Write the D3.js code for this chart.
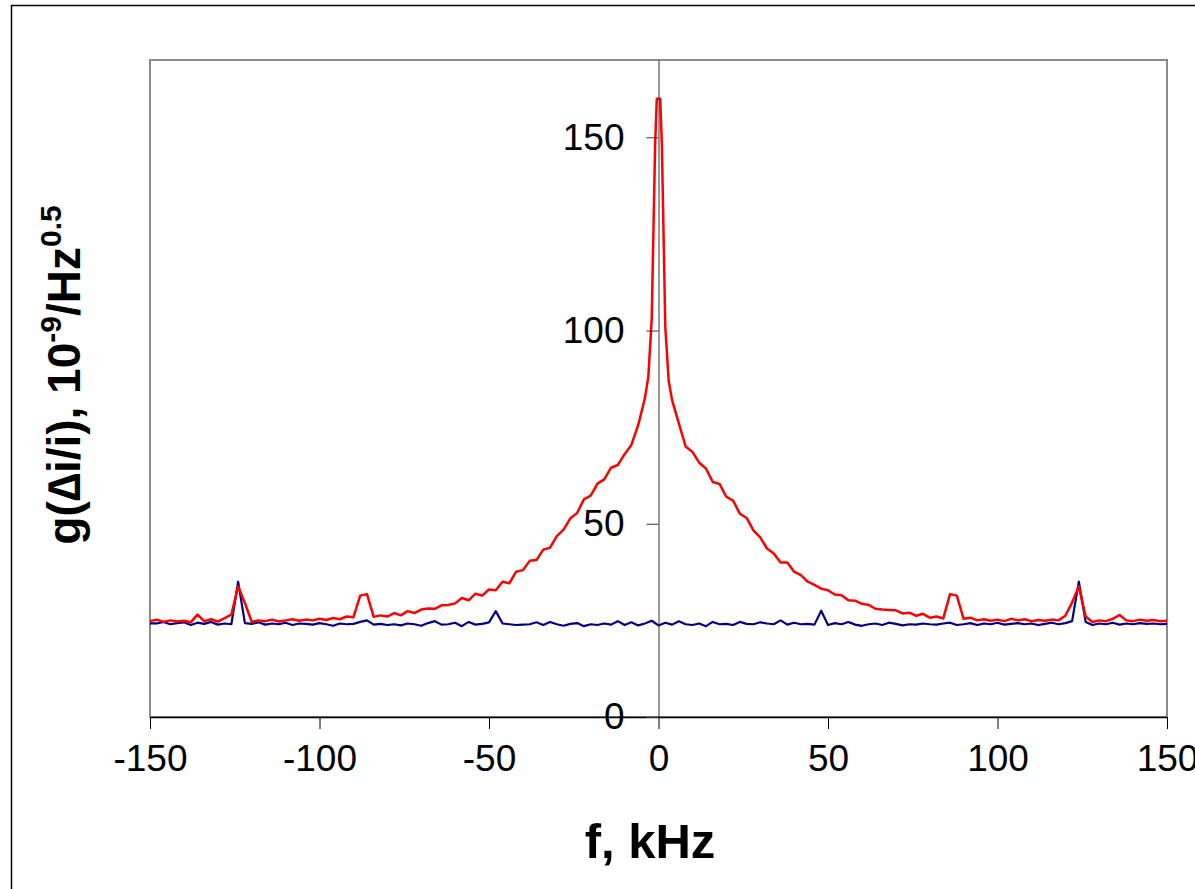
<!DOCTYPE html>
<html>
<head>
<meta charset="utf-8">
<script src="https://cdn.jsdelivr.net/npm/d3@7"></script>
<style>
  html, body { margin: 0; padding: 0; background: #fff; overflow: hidden; }
</style>
</head>
<body>
<div id="chart"></div>
<script>
// frequency grid, kHz (step 2)
const freq = d3.range(-150, 151, 2);

// blue trace (reference level), one value per freq
const blueVals = [
  24.2, 24.2, 24.6, 24.0, 24.3, 24.5, 23.8, 24.4, 24.1, 24.6, 23.9, 24.2, 24.0, 35.0, 24.3,
  24.1, 24.5, 23.9, 24.2, 24.0, 24.4, 23.8, 24.2, 24.1, 23.9, 24.3, 24.0, 23.6, 24.2, 24.0,
  24.1, 24.6, 25.0, 23.9, 24.1, 23.8, 24.0, 23.7, 24.2, 24.0, 23.6, 24.3, 24.8, 23.9, 24.0,
  24.4, 23.5, 24.6, 23.9, 24.1, 24.5, 27.4, 24.2, 24.0, 23.8, 23.9, 24.0, 24.5, 23.8, 24.6,
  24.0, 23.6, 24.1, 24.3, 23.5, 24.0, 23.8, 24.2, 23.9, 24.8, 23.8, 24.5, 23.7, 24.2, 24.9,
  23.7, 24.4, 23.9, 24.8, 24.0, 23.8, 24.2, 23.5, 24.6, 24.0, 24.1, 23.8, 24.6, 24.1, 24.0,
  24.5, 24.2, 24.0, 25.0, 23.9, 24.4, 24.0, 24.1, 23.9, 27.5, 23.8, 24.3, 24.0, 24.6, 23.9,
  23.6, 24.0, 24.2, 23.8, 24.4, 24.1, 23.7, 24.0, 23.9, 24.2, 24.0, 23.9, 24.2, 24.4, 23.8,
  24.0, 24.3, 23.8, 24.2, 24.0, 24.4, 23.9, 24.1, 24.3, 24.0, 24.2, 23.8, 24.1, 24.4, 24.0,
  24.3, 24.8, 35.0, 24.6, 23.8, 24.2, 24.0, 24.4, 23.9, 24.2, 24.0, 24.3, 24.1, 24.2, 24.0, 24.1
];

// red trace, one value per freq
const redVals = [
  24.8, 25.2, 24.6, 25.0, 24.7, 24.9, 24.5, 26.5, 24.8, 25.3, 24.7, 25.6, 26.5, 33.8, 29.5,
  24.6, 25.0, 24.8, 25.2, 24.7, 25.0, 25.3, 24.9, 25.2, 25.0, 25.4, 25.1, 25.6, 25.3, 26.0,
  25.8, 31.4, 31.8, 25.9, 26.3, 26.0, 26.9, 26.3, 27.4, 26.9, 27.8, 28.1, 28.0, 28.9, 29.0,
  29.4, 30.8, 30.2, 31.9, 31.4, 33.0, 32.8, 35.0, 34.6, 37.6, 38.0, 40.4, 40.6, 43.3, 43.8,
  46.8, 48.5, 51.4, 52.8, 56.3, 57.3, 60.4, 61.5, 64.5, 65.2, 68.0, 70.4, 75.5, 82.5, 103,
  160, 101, 82, 76, 70.0, 68.6, 65.8, 64.3, 60.8, 60.3, 57.0, 56.0, 52.6, 51.5, 48.3,
  46.5, 43.6, 42.3, 40.0, 40.0, 37.6, 36.7, 35.0, 34.2, 33.2, 32.8, 31.7, 31.5, 30.2, 30.1,
  29.3, 29.0, 28.0, 27.8, 27.7, 27.6, 26.8, 27.0, 26.2, 26.7, 25.7, 26.0, 25.5, 31.8, 31.4,
  25.4, 25.7, 25.0, 25.3, 24.9, 25.2, 24.8, 25.4, 25.0, 25.3, 24.8, 25.1, 24.9, 25.2, 25.0,
  26.2, 29.6, 33.8, 26.0, 24.6, 25.0, 24.8, 25.4, 26.4, 25.0, 24.8, 25.2, 24.9, 25.1, 24.8, 24.9
];

// extra points around the central peak of the red trace
const peakFreq = [-3, -1, -0.5, 0.5, 1, 3];
const peakRed = [88, 148, 160, 160, 148, 87];

const xTicks = [-150, -100, -50, 0, 50, 100, 150];
const yTicks = [0, 50, 100, 150];

const width = 1195, height = 889;
const plot = { left: 150, right: 1167, top: 60, bottom: 717 };

const blueData = freq.map((f, i) => ({ f: f, v: blueVals[i] }));
const redData = freq.map((f, i) => ({ f: f, v: redVals[i] }))
  .concat(peakFreq.map((f, i) => ({ f: f, v: peakRed[i] })))
  .sort((a, b) => a.f - b.f);

const x_scale = d3.scaleLinear().domain([-150, 150]).range([plot.left, plot.right]);
const y_scale = d3.scaleLinear().domain([0, 170]).range([plot.bottom, plot.top]);

const svg = d3.select('#chart').append('svg')
  .attr('width', width).attr('height', height)
  .style('display', 'block')
  .style('font-family', 'Arial, "Liberation Sans", sans-serif');

// outer frame
svg.append('rect')
  .attr('x', 11.5).attr('y', 5.5)
  .attr('width', 1300).attr('height', 1000)
  .attr('fill', 'none').attr('stroke', '#000').attr('stroke-width', 1.5);

// plot area border
svg.append('rect')
  .attr('x', plot.left).attr('y', plot.top)
  .attr('width', plot.right - plot.left).attr('height', plot.bottom - plot.top)
  .attr('fill', '#fff').attr('stroke', '#8c8c8c').attr('stroke-width', 2);

const line = d3.line().x(d => x_scale(d.f)).y(d => y_scale(d.v));

svg.append('path')
  .datum(blueData)
  .attr('fill', 'none')
  .attr('stroke', '#000080')
  .attr('stroke-width', 2.2)
  .attr('stroke-linejoin', 'round')
  .attr('d', line);

svg.append('path')
  .datum(redData)
  .attr('fill', 'none')
  .attr('stroke', '#ff0000')
  .attr('stroke-width', 2.5)
  .attr('stroke-linejoin', 'round')
  .attr('d', line);

// x axis along the bottom
const xAxis = svg.append('g')
  .attr('transform', `translate(0,${plot.bottom})`)
  .call(d3.axisBottom(x_scale).tickValues(xTicks).tickFormat(d => String(d))
    .tickSize(12).tickPadding(16).tickSizeOuter(0));
xAxis.select('.domain').attr('stroke', '#000').attr('stroke-width', 1.5);
xAxis.selectAll('.tick line').attr('stroke', '#000');
xAxis.selectAll('text')
  .attr('font-size', '37px')
  .attr('font-family', 'Arial, "Liberation Sans", sans-serif')
  .attr('fill', '#000');

// y axis through x = 0
const yAxis = svg.append('g')
  .attr('transform', `translate(${x_scale(0)},0)`)
  .call(d3.axisLeft(y_scale).tickValues(yTicks).tickFormat(d => String(d))
    .tickSize(12).tickPadding(22).tickSizeOuter(0));
yAxis.select('.domain').attr('stroke', '#333').attr('stroke-width', 1);
yAxis.selectAll('.tick line').attr('stroke', '#333');
yAxis.selectAll('text')
  .attr('font-size', '37px')
  .attr('font-family', 'Arial, "Liberation Sans", sans-serif')
  .attr('fill', '#000');

// axis titles
svg.append('text')
  .attr('x', 650).attr('y', 858)
  .attr('text-anchor', 'middle')
  .style('font-size', '49px')
  .style('font-weight', 'bold')
  .text('f, kHz');

const yTitle = svg.append('text')
  .attr('transform', 'translate(80,375) rotate(-90)')
  .attr('text-anchor', 'middle')
  .style('font-size', '46px')
  .style('font-weight', 'bold');
yTitle.append('tspan').text('g(\u2206i/i), 10');
yTitle.append('tspan').attr('dy', -19).style('font-size', '30px').text('-9');
yTitle.append('tspan').attr('dy', 19).text('/Hz');
yTitle.append('tspan').attr('dy', -19).style('font-size', '30px').text('0.5');
</script>
</body>
</html>
